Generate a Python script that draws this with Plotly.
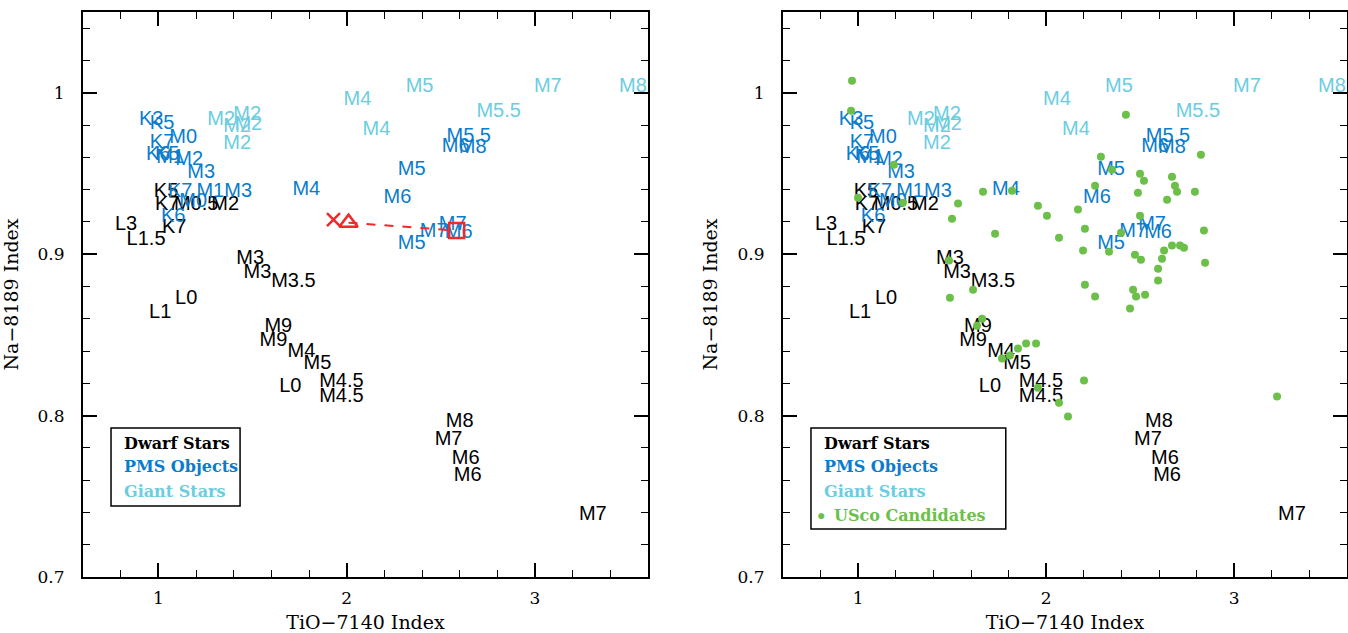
import plotly.graph_objects as go

# ---- spectral-type labels (TiO-7140, Na-8189) ----
dwarf_x = [1.041, 1.047, 1.201, 1.355, 1.084, 0.829, 0.935, 1.488, 1.526, 1.717,
           1.148, 1.010, 1.637, 1.611, 1.760, 1.845, 1.701, 1.972, 1.972, 2.600,
           2.541, 2.632, 2.643, 3.307]
dwarf_y = [0.9387, 0.9307, 0.9307, 0.9307, 0.9164, 0.9183, 0.9090, 0.8972, 0.8885, 0.8830,
           0.8724, 0.8638, 0.8551, 0.8464, 0.8396, 0.8322, 0.8180, 0.8211, 0.8118, 0.7963,
           0.7851, 0.7728, 0.7628, 0.7387]
dwarf_sp = ["K5", "K7", "M0.5", "M2", "K7", "L3", "L1.5", "M3", "M3", "M3.5",
            "L0", "L1", "M9", "M9", "M4", "M5", "L0", "M4.5", "M4.5", "M8",
            "M7", "M6", "M6", "M7"]

pms_x = [0.962, 1.020, 1.132, 1.020, 0.999, 1.047, 1.063, 1.164, 1.228, 1.116,
         1.276, 1.424, 1.185, 1.079, 1.786, 2.648, 2.579, 2.669, 2.345, 2.270,
         2.462, 2.563, 2.595, 2.345]
pms_y = [0.9833, 0.9808, 0.9721, 0.9690, 0.9616, 0.9616, 0.9598, 0.9585, 0.9505, 0.9387,
         0.9387, 0.9387, 0.9325, 0.9232, 0.9399, 0.9728, 0.9666, 0.9659, 0.9523, 0.9350,
         0.9139, 0.9183, 0.9133, 0.9065]
pms_sp = ["K3", "K5", "M0", "K7", "K6", "K5", "M1", "M2", "M3", "K7",
          "M1", "M3", "M0", "K6", "M4", "M5.5", "M6", "M8", "M5", "M6",
          "M7", "M7", "M6", "M5"]

giant_x = [2.057, 2.387, 3.068, 3.520, 2.807, 2.158, 1.334, 1.472, 1.419, 1.478, 1.419]
giant_y = [0.9957, 1.0037, 1.0037, 1.0037, 0.9882, 0.9771, 0.9833, 0.9864, 0.9789, 0.9802, 0.9684]
giant_sp = ["M4", "M5", "M7", "M8", "M5.5", "M4", "M2", "M2", "M2", "M2", "M2"]

# ---- individual object measurements (left panel) ----
obj_x = [1.930, 2.010, 2.584]
obj_y = [0.9214, 0.9195, 0.9146]

# ---- Upper Sco candidates (right panel) ----
usco_x = [0.967, 0.962, 1.190, 0.999, 1.238, 1.664, 1.818, 1.531, 1.499, 1.728,
          1.956, 2.004, 2.068, 1.483, 1.611, 1.488, 1.659, 1.632, 1.850, 1.893,
          1.946, 1.765, 1.807, 1.956, 2.068, 2.116, 2.201, 2.424, 2.291, 2.350,
          2.260, 2.169, 2.206, 2.196, 2.334, 2.398, 2.499, 2.520, 2.488, 2.499,
          2.472, 2.504, 2.669, 2.685, 2.696, 2.643, 2.791, 2.823, 2.839, 2.845,
          2.627, 2.669, 2.712, 2.733, 2.616, 2.595, 2.595, 2.206, 2.260, 2.462,
          2.478, 2.526, 2.446, 3.228]
usco_y = [1.0074, 0.9889, 0.9554, 0.9350, 0.9319, 0.9387, 0.9393, 0.9313, 0.9220, 0.9127,
          0.9300, 0.9238, 0.9102, 0.8960, 0.8780, 0.8730, 0.8600, 0.8557, 0.8415, 0.8446,
          0.8446, 0.8353, 0.8372, 0.8173, 0.8080, 0.7994, 0.8217, 0.9864, 0.9604, 0.9523,
          0.9424, 0.9276, 0.9158, 0.9022, 0.9015, 0.9133, 0.9498, 0.9455, 0.9381, 0.9238,
          0.8997, 0.8966, 0.9480, 0.9424, 0.9387, 0.9337, 0.9387, 0.9616, 0.9146, 0.8947,
          0.9022, 0.9053, 0.9053, 0.9040, 0.8972, 0.8910, 0.8836, 0.8811, 0.8737, 0.8780,
          0.8737, 0.8749, 0.8663, 0.8118]

X_RANGE = [0.6, 3.6]
Y_RANGE = [0.7, 1.05]

BLACK = "#000000"
PMS_BLUE = "#0a7ccb"
GIANT_CYAN = "#6ccde0"
RED = "#ee2a2a"
GREEN = "#6cc04a"

LABEL_FONT = "Liberation Sans, Arial, sans-serif"
AXIS_FONT = "DejaVu Serif, serif"

W, H = 1348, 633
fig = go.Figure()


def add_labels(xaxis, yaxis):
    for xs, ys, txt, col in [(dwarf_x, dwarf_y, dwarf_sp, BLACK),
                             (pms_x, pms_y, pms_sp, PMS_BLUE),
                             (giant_x, giant_y, giant_sp, GIANT_CYAN)]:
        fig.add_trace(go.Scatter(
            x=xs, y=ys, text=txt, mode="text", textposition="middle center",
            textfont=dict(family=LABEL_FONT, size=20, color=col),
            xaxis=xaxis, yaxis=yaxis, showlegend=False, hoverinfo="skip",
            cliponaxis=False))


add_labels("x", "y")

# connecting dashed segment and the three markers
fig.add_trace(go.Scatter(
    x=obj_x[1:], y=obj_y[1:], mode="lines",
    line=dict(color=RED, width=2, dash="dash"),
    xaxis="x", yaxis="y", showlegend=False, hoverinfo="skip"))
for sym, size, xv, yv in [("x-thin-open", 13, obj_x[0], obj_y[0]),
                          ("triangle-up-open", 16, obj_x[1], obj_y[1]),
                          ("square-open", 15, obj_x[2], obj_y[2])]:
    fig.add_trace(go.Scatter(
        x=[xv], y=[yv], mode="markers",
        marker=dict(symbol=sym, size=size, color=RED, line=dict(color=RED, width=2.5)),
        xaxis="x", yaxis="y", showlegend=False, hoverinfo="skip"))

add_labels("x2", "y2")
fig.add_trace(go.Scatter(
    x=usco_x, y=usco_y, mode="markers",
    marker=dict(size=8, color=GREEN),
    xaxis="x2", yaxis="y2", showlegend=False, hoverinfo="skip"))

# ---- axes ----
dom_l = [83 / W, 648 / W]
dom_r = [783 / W, 1347 / W]
dom_y = [1 - 577 / H, 1 - 12 / H]

common_x = dict(range=X_RANGE, dtick=1, tick0=0, ticks="inside", ticklen=14, tickwidth=1.5,
                tickcolor="black", showline=True, linecolor="black", linewidth=2,
                mirror="ticks", showgrid=False, zeroline=False, automargin=False,
                minor=dict(dtick=0.2, ticks="inside", ticklen=7, tickwidth=1.2,
                           tickcolor="black", showgrid=False),
                tickfont=dict(family=AXIS_FONT, size=17, color="black"),
                ticklabelstandoff=5,
                title=dict(text="TiO\u22127140 Index",
                           font=dict(family=AXIS_FONT, size=19, color="black")))
common_y = dict(range=Y_RANGE, dtick=0.1, tick0=0, ticks="inside", ticklen=14, tickwidth=1.5,
                tickcolor="black", showline=True, linecolor="black", linewidth=2,
                mirror="ticks", showgrid=False, zeroline=False, automargin=False,
                minor=dict(dtick=0.02, ticks="inside", ticklen=7, tickwidth=1.2,
                           tickcolor="black", showgrid=False),
                tickfont=dict(family=AXIS_FONT, size=17, color="black"),
                ticklabelstandoff=13,
                title=dict(text="Na\u22128189 Index",
                           font=dict(family=AXIS_FONT, size=19, color="black")))

fig.update_layout(
    width=W, height=H,
    margin=dict(l=0, r=0, t=0, b=0, autoexpand=False),
    paper_bgcolor="white", plot_bgcolor="white",
    xaxis=dict(domain=dom_l, anchor="y", **common_x),
    yaxis=dict(domain=dom_y, anchor="x", **common_y),
    xaxis2=dict(domain=dom_r, anchor="y2", **common_x),
    yaxis2=dict(domain=dom_y, anchor="x2", **common_y),
)

# ---- legend boxes ----
LEG_FONT = dict(family=AXIS_FONT, size=16)
legend_rows = [("Dwarf Stars", BLACK), ("PMS Objects", PMS_BLUE), ("Giant Stars", GIANT_CYAN)]
row_y = [0.237, 0.1947, 0.152, 0.1097]

for xa, ya, box_right, box_bottom, with_usco in [("x", "y", 0.278, 0.1257, False),
                                                  ("x2", "y2", 0.395, 0.085, True)]:
    fig.add_shape(type="rect", xref=f"{xa} domain", yref=f"{ya} domain",
                  x0=0.0496, x1=box_right, y0=box_bottom, y1=0.2637,
                  line=dict(color="black", width=1.5), fillcolor="white", layer="below")
    for (txt, col), yy in zip(legend_rows, row_y):
        fig.add_annotation(xref=f"{xa} domain", yref=f"{ya} domain", x=0.069, y=yy,
                           text=f"<b>{txt}</b>", showarrow=False, xanchor="left",
                           yanchor="middle", font=dict(color=col, **LEG_FONT))
    if with_usco:
        fig.add_annotation(xref=f"{xa} domain", yref=f"{ya} domain", x=0.0674, y=row_y[3],
                           text="\u25cf", showarrow=False, xanchor="center", yanchor="middle",
                           font=dict(color=GREEN, family=LABEL_FONT, size=14))
        fig.add_annotation(xref=f"{xa} domain", yref=f"{ya} domain", x=0.0869, y=row_y[3],
                           text="<b>USco Candidates</b>", showarrow=False, xanchor="left",
                           yanchor="middle", font=dict(color=GREEN, **LEG_FONT))

fig.write_html("out.html")
